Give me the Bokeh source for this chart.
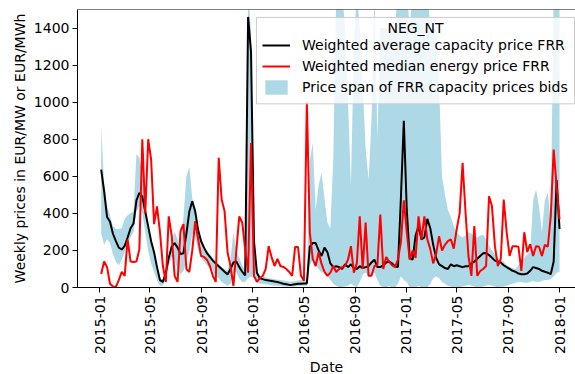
import numpy as np
import pandas as pd
from bokeh.plotting import figure
from bokeh.models import (ColumnDataSource, FixedTicker, Legend, LegendItem,
                          Label, Range1d, Span, Title, BoxAnnotation)
from bokeh.embed import file_html
from bokeh.resources import INLINE

# ---------------- data ----------------
week_start = "2015-01-05"

avg_capacity = [
    636, 520, 380, 355, 290, 250, 215, 205, 225, 270,
    320, 345, 470, 510, 490, 410, 330, 250, 190, 110,
    40, 30, 80, 160, 220, 240, 215, 180, 185, 290,
    410, 465, 410, 310, 250, 215, 185, 165, 145, 130,
    115, 100, 85, 70, 100, 135, 140, 110, 85, 65,
    1460, 1270, 250, 80, 50, 45, 40, 38, 35, 32,
    30, 25, 20, 18, 14, 15, 18, 20, 20, 22,
    22, 220, 240, 240, 200, 170, 215, 190, 130, 110,
    115, 110, 100, 125, 110, 125, 105, 100, 115, 105,
    110, 115, 135, 150, 110, 110, 120, 135, 140, 130,
    115, 110, 480, 900, 420, 160, 150, 280, 330, 260,
    270, 370, 320, 230, 160, 125, 115, 105, 100, 125,
    115, 120, 115, 110, 115, 115, 130, 140, 155, 170,
    185, 186, 175, 160, 145, 140, 135, 120, 110, 100,
    90, 85, 75, 72, 72, 75, 90, 110, 105, 100,
    90, 85, 80, 72, 140, 580, 315,
]

median_energy = [
    73, 140, 110, 20, 5, 3, 40, 84, 63, 260,
    140, 138, 140, 207, 800, 400, 800, 690, 342, 438,
    300, 116, 30, 384, 280, 63, 30, 304, 342, 100,
    84, 200, 358, 260, 170, 165, 150, 116, 63, 30,
    700, 475, 411, 191, 116, 9, 200, 384, 351, 207,
    80, 780, 63, 30, 50, 63, 100, 223, 164, 116,
    154, 116, 111, 100, 84, 63, 218, 218, 63, 36,
    1000, 298, 154, 116, 191, 127, 84, 63, 80, 116,
    84, 100, 110, 116, 150, 223, 80, 130, 384, 100,
    351, 63, 63, 116, 120, 394, 100, 164, 140, 120,
    110, 150, 245, 470, 300, 150, 200, 160, 384, 260,
    384, 260, 207, 130, 180, 277, 200, 230, 250, 260,
    210, 315, 400, 673, 406, 170, 63, 331, 63, 89,
    100, 116, 492, 438, 223, 116, 154, 475, 298, 170,
    223, 223, 220, 90, 298, 191, 234, 170, 223, 220,
    170, 230, 220, 384, 744, 545, 368,
]

span_low = [
    290, 230, 260, 240, 180, 140, 120, 150, 190, 240,
    270, 300, 410, 440, 400, 300, 200, 130, 84, 40,
    10, 10, 47, 116, 165, 145, 100, 70, 90, 140,
    191, 290, 270, 200, 160, 140, 120, 105, 95, 63,
    50, 30, 20, 9, 20, 80, 84, 47, 30, 30,
    50, 60, 50, 30, 20, 20, 18, 15, 12, 10,
    10, 8, 6, 5, 5, 5, 6, 8, 8, 10,
    10, 120, 150, 120, 100, 80, 90, 60, 40, 20,
    10, 0, 0, 5, 10, 20, 10, 0, 30, 70,
    80, 60, 70, 80, 40, 10, 0, 0, 10, 0,
    0, 20, 60, 40, 30, 0, 0, 0, 10, 0,
    0, 0, 20, 50, 60, 50, 30, 20, 10, 5,
    0, 0, 0, 5, 10, 15, 10, 5, 0, 0,
    5, 10, 15, 10, 5, 0, 0, 5, 10, 15,
    20, 25, 30, 30, 25, 25, 30, 35, 30, 30,
    35, 40, 40, 45, 60, 80, 84,
]

span_high = [
    870, 560, 440, 390, 330, 315, 315, 320, 370, 390,
    400, 410, 720, 700, 620, 440, 340, 260, 200, 120,
    50, 45, 95, 175, 265, 300, 260, 210, 380, 600,
    650, 480, 430, 330, 265, 225, 200, 180, 160, 140,
    125, 110, 100, 90, 150, 298, 200, 160, 120, 90,
    1600, 1380, 260, 95, 60, 60, 55, 50, 48, 45,
    42, 40, 38, 35, 32, 32, 35, 38, 40, 42,
    45, 680, 780, 420, 550, 620, 480, 350, 320, 700,
    1600, 1600, 1600, 1400, 1000, 546, 1300, 1600, 1400, 1100,
    750, 582, 900, 1600, 800, 1400, 1400, 1400, 1400, 1400,
    1400, 1600, 1600, 1600, 1600, 1400, 1600, 1600, 1600, 1600,
    1600, 1600, 1400, 1400, 1400, 1100, 600, 500, 420, 380,
    330, 300, 280, 270, 280, 300, 290, 280, 270, 280,
    285, 260, 225, 200, 180, 160, 150, 140, 120, 110,
    105, 100, 120, 140, 160, 180, 191, 470, 530, 438,
    300, 470, 512, 350, 1600, 1600, 1600,
]

x_tick_labels = ["2015-01", "2015-05", "2015-09", "2016-01", "2016-05",
                 "2016-09", "2017-01", "2017-05", "2017-09", "2018-01"]
y_ticks = [0, 200, 400, 600, 800, 1000, 1200, 1400]

legend_title = "NEG_NT"
label_avg = "Weighted average capacity price FRR"
label_med = "Weighted median energy price FRR"
label_span = "Price span of FRR capacity prices bids"
x_axis_title = "Date"
y_axis_title = "Weekly prices in EUR/MW or EUR/MWh"

# ---------------- build ----------------
def to_ms(ts):
    return int(pd.Timestamp(ts).value // 10**6)

dates = pd.date_range(week_start, periods=len(avg_capacity), freq="7D")
x_ms = [to_ms(d) for d in dates]

src = ColumnDataSource(dict(x=x_ms, avg=avg_capacity, med=median_energy,
                            lo=span_low, hi=span_high))

x_start = to_ms("2014-11-09 14:00")
x_end = to_ms("2018-02-08")
y_top = 1500

FONT = "DejaVu Sans"

p = figure(width=575, height=374, output_backend="svg", toolbar_location=None,
           x_range=Range1d(x_start, x_end), y_range=Range1d(0, y_top),
           min_border_left=77, min_border_right=0, min_border_top=9,
           min_border_bottom=85)
p.outline_line_color = None
p.xgrid.visible = False
p.ygrid.visible = False
p.background_fill_color = "white"
p.border_fill_color = "white"

r_fill = p.varea(x="x", y1="lo", y2="hi", source=src, fill_color="#add8e6",
                 fill_alpha=1.0)
r_avg = p.line("x", "avg", source=src, line_color="black", line_width=2)
r_med = p.line("x", "med", source=src, line_color="red", line_width=2)

# top spine
p.add_layout(Span(location=y_top, dimension="width", line_color="black",
                  line_width=1))

tick_ms = [to_ms(t + "-01") for t in x_tick_labels]
xa = p.xaxis[0]
xa.ticker = FixedTicker(ticks=tick_ms)
xa.major_label_overrides = {t: l for t, l in zip(tick_ms, x_tick_labels)}
xa.major_label_orientation = np.pi / 2
xa.major_label_text_font = FONT
xa.major_label_text_font_size = "14px"
xa.major_label_text_color = "black"
xa.major_label_standoff = 3
xa.major_tick_out = 5
xa.major_tick_in = 0
xa.minor_tick_out = 0
xa.minor_tick_in = 0
xa.axis_line_color = "black"
xa.major_tick_line_color = "black"

p.add_layout(Title(text=x_axis_title, align="center", text_font=FONT,
                   text_font_size="14px", text_font_style="normal",
                   text_color="black", standoff=0), "below")

ya = p.yaxis[0]
ya.ticker = FixedTicker(ticks=y_ticks)
ya.major_label_text_font = FONT
ya.major_label_text_font_size = "14px"
ya.major_label_text_color = "black"
ya.major_label_standoff = 3
ya.major_tick_out = 5
ya.major_tick_in = 0
ya.minor_tick_out = 0
ya.minor_tick_in = 0
ya.axis_line_color = "black"
ya.major_tick_line_color = "black"
ya.axis_label = y_axis_title
ya.axis_label_text_font = FONT
ya.axis_label_text_font_size = "14px"
ya.axis_label_text_font_style = "normal"
ya.axis_label_text_color = "black"
ya.axis_label_standoff = 3

# frame geometry (screen px) used to place the legend box and title
frame_left, frame_w, frame_top, frame_h = 77, 498, 9, 280

def px_to_x(px):
    return x_start + (px - frame_left) / frame_w * (x_end - x_start)

def py_to_y(py):
    return (frame_top + frame_h - py) / frame_h * y_top

# legend frame (semi-transparent white box, light grey border)
p.add_layout(BoxAnnotation(left=px_to_x(256), right=px_to_x(574),
                           top=py_to_y(17), bottom=py_to_y(104),
                           fill_color="white", fill_alpha=0.8,
                           line_color="#cccccc", line_width=1, line_alpha=1.0))

legend = Legend(
    items=[LegendItem(label=label_avg, renderers=[r_avg]),
           LegendItem(label=label_med, renderers=[r_med]),
           LegendItem(label=label_span, renderers=[r_fill])],
    location=(179, 185), title=" ",
    label_text_font=FONT, label_text_font_size="14px", label_text_color="black",
    title_text_font=FONT, title_text_font_size="11px", title_standoff=1,
    glyph_width=28, glyph_height=18, label_height=18, label_standoff=12,
    spacing=3, padding=6, margin=0,
    border_line_alpha=0, background_fill_alpha=0,
)
p.add_layout(legend)

p.add_layout(Label(x=px_to_x(415), y=py_to_y(28), text=legend_title,
                   text_align="center", text_baseline="middle", text_font=FONT,
                   text_font_size="14px", text_color="black"))

open("out.html", "w").write(file_html(p, INLINE))
